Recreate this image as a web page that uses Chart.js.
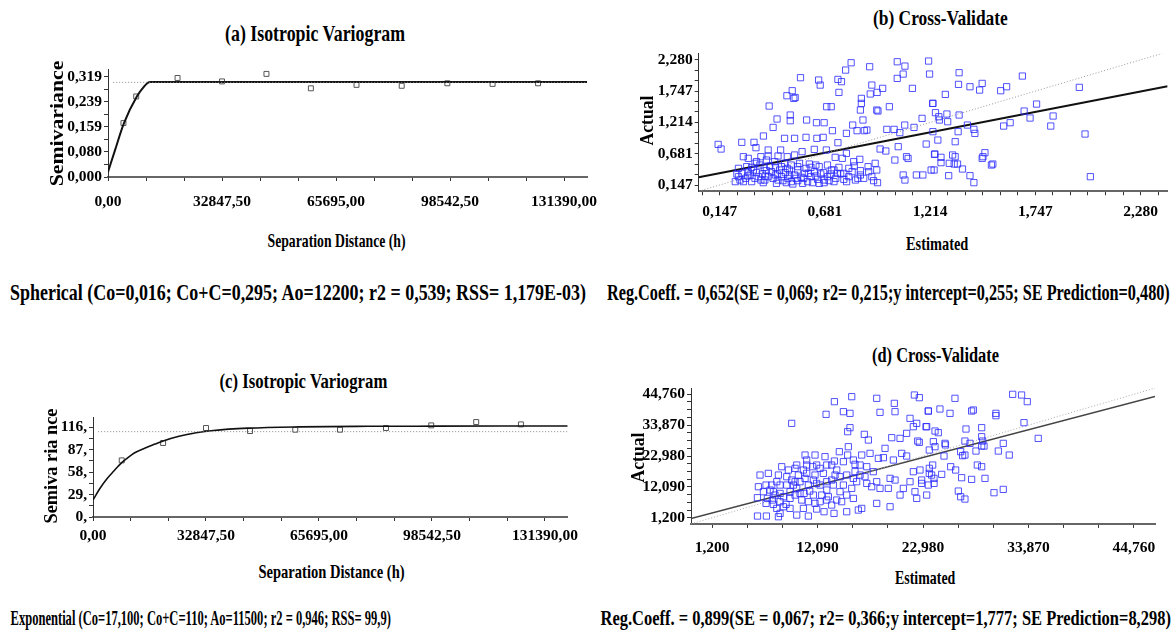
<!DOCTYPE html>
<html>
<head>
<meta charset="utf-8">
<script src="https://cdn.jsdelivr.net/npm/chart.js@4.4.0/dist/chart.umd.min.js"></script>
<style>
  body { margin: 0; width: 1173px; height: 633px; background: #fff; position: relative; overflow: hidden;
         font-family: "Liberation Serif", "Times New Roman", serif; }
  canvas { position: absolute; }
  .t { position: absolute; white-space: nowrap; font-weight: bold; color: #000; line-height: 1; transform-origin: center center; }
</style>
</head>
<body>
<script>
// --------------------
// Data
// --------------------

// (a) spherical variogram: experimental points, fitted model, sample variance
const lagA = [4450, 8130, 20040, 32850, 45650, 58450, 71600, 84620, 97760, 110800, 123900];
const semA = [0.172, 0.257, 0.316, 0.305, 0.329, 0.283, 0.294, 0.291, 0.299, 0.297, 0.299];
const modelHA = [0, 2000, 4600, 8350, 10500, 11300, 12200, 138000];
const modelGA = [0.016, 0.085, 0.172, 0.258, 0.290, 0.299, 0.303, 0.303];
const sillA = 0.302;

// (c) exponential variogram
const lagC = [8350, 20380, 32850, 45650, 58800, 71800, 85170, 98330, 111400, 124400];
const semC = [73.0, 95.4, 114.7, 110.8, 112.5, 112.5, 114.7, 118.1, 122.4, 119.4];
const modelHC = [0, 2000, 4000, 6000, 8350, 10000, 12000, 15000, 18000, 20400, 25000, 30000, 35000, 45000, 60000, 80000, 100000, 138000];
const modelGC = [22, 36.8, 49, 59, 70, 76, 82.5, 88.7, 94, 98, 104, 108.5, 111.5, 114.5, 116.2, 116.9, 117.1, 117.3];
const sillC = 110;

// (b) cross-validation, [estimated, actual]
const cvB = [
  [0.814,2.233],[0.786,2.108],[0.908,2.165],[1.048,2.25],[1.087,2.176],[1.207,2.262],[1.212,2.04],[1.078,2.04],
  [1.048,1.966],[0.557,1.978],[0.649,1.938],[0.657,1.852],[0.747,1.949],[0.765,1.91],[0.919,1.852],[0.974,1.796],
  [0.946,1.727],[0.911,1.70],[0.752,1.727],[1.125,1.796],[0.515,1.756],[0.488,1.67],[0.523,1.625],[0.53,1.64],
  [0.866,1.625],[0.866,1.54],[0.861,1.426],[0.874,1.256],[0.944,1.426],[0.95,1.41],[1.008,1.483],[1.229,1.54],
  [0.398,1.494],[0.69,1.483],[0.713,1.483],[0.438,1.273],[0.418,1.13],[0.505,1.341],[0.505,1.244],[0.588,1.256],
  [0.638,1.21],[0.677,1.21],[0.369,0.983],[0.259,0.875],[0.321,0.875],[0.331,0.784],[0.139,0.84],[0.154,0.761],
  [0.476,0.943],[0.527,0.943],[0.585,0.96],[0.64,0.943],[0.672,0.96],[0.719,1.074],[0.747,0.869],[0.79,1.028],
  [0.822,1.17],[0.844,1.074],[0.881,1.074],[0.894,1.085],[0.995,1.096],[1.032,1.096],[1.061,1.04],[1.086,1.17],
  [1.133,1.13],[1.174,1.284],[1.195,0.846],[1.229,1.057],[1.239,0.676],[1.235,0.403],[1.053,0.801],[0.961,0.761],
  [0.99,0.727],[1.036,0.573],[1.095,0.63],[1.103,0.60],[1.145,0.318],[1.178,0.318],[1.078,0.318],[1.087,0.232],
  [0.936,0.517],[0.944,0.403],[0.948,0.187],[0.919,0.289],[0.858,0.585],[0.9,0.46],[0.83,0.471],[0.79,0.687],
  [0.769,0.602],[0.733,0.619],[0.688,0.744],[0.627,0.755],[0.565,0.716],[0.527,0.659],[0.49,0.63],[0.456,0.744],
  [0.393,0.744],[0.443,0.642],[0.393,0.642],[0.267,0.63],[0.292,0.602],[0.334,0.545],[0.356,0.63],[0.384,0.573],
  [0.226,0.204],[0.242,0.289],[0.259,0.346],[0.279,0.261],[0.301,0.318],[0.318,0.403],[0.326,0.261],[0.343,0.289],
  [0.363,0.335],[0.376,0.232],[0.393,0.289],[0.41,0.374],[0.43,0.318],[0.443,0.232],[0.46,0.289],[0.48,0.357],
  [0.493,0.261],[0.51,0.204],[0.527,0.318],[0.543,0.403],[0.56,0.278],[0.577,0.346],[0.593,0.204],[0.61,0.289],
  [0.627,0.374],[0.644,0.244],[0.66,0.335],[0.677,0.232],[0.694,0.289],[0.714,0.403],[0.736,0.261],[0.761,0.335],
  [0.777,0.244],[0.802,0.289],[0.819,0.374],[0.836,0.232],[0.861,0.318],[0.878,0.261],[0.242,0.431],[0.284,0.46],
  [0.351,0.488],[0.401,0.471],[0.46,0.46],[0.51,0.488],[0.552,0.517],[0.602,0.505],[0.652,0.46],[0.694,0.488],
  [0.752,0.448],[0.802,0.431],[0.861,0.391],[0.903,0.374],[0.652,0.175],[0.518,0.164],[0.568,0.175],[0.727,0.204],
  [0.777,0.346],[0.25,0.232],[0.309,0.204],[0.368,0.187],[0.435,0.175],[0.485,0.187],[0.543,0.221],[0.618,0.187],
  [0.677,0.187],[0.292,0.374],[0.384,0.391],[0.451,0.403],[0.501,0.403],[0.585,0.431],[0.635,0.488],[0.711,0.335],
  [0.326,0.517],[0.426,0.545],[0.476,0.517],[0.234,0.335],[0.267,0.204],[0.289,0.301],[0.334,0.357],[0.356,0.232],
  [0.379,0.301],[0.418,0.261],[0.439,0.335],[0.468,0.221],[0.501,0.318],[0.535,0.261],[0.573,0.261],[0.597,0.346],
  [0.635,0.301],[0.674,0.357],[0.702,0.221],[0.744,0.346],[0.791,0.204],[0.848,0.261],[0.309,0.448],[0.373,0.448],
  [0.43,0.448],[0.49,0.431],[0.543,0.46],[0.61,0.448],[0.727,0.403],[0.827,0.545],[0.928,0.221],
  [1.362,2.063],[1.359,1.864],[1.417,1.824],[1.466,1.767],[1.479,1.881],[1.573,1.756],[1.603,1.824],[1.683,2.006],
  [1.972,1.813],[1.292,1.693],[1.228,1.54],[1.242,1.381],[1.259,1.312],[1.262,1.256],[1.3,1.358],[1.304,1.227],
  [1.362,1.341],[1.357,1.057],[1.404,1.17],[1.437,1.096],[1.442,1.028],[1.588,1.153],[1.621,1.21],[1.692,1.409],
  [1.722,1.29],[1.755,1.528],[1.839,1.324],[1.827,1.153],[2.001,1.017],[1.254,0.914],[1.342,0.886],[1.237,0.67],
  [1.27,0.619],[1.27,0.528],[1.312,0.517],[1.329,0.659],[1.342,0.63],[1.337,0.505],[1.354,0.505],[1.379,0.42],
  [1.22,0.403],[1.309,0.306],[1.417,0.306],[1.437,0.187],[1.483,0.63],[1.493,0.698],[1.479,0.602],[1.526,0.488],
  [1.533,0.505],[2.028,0.289]
];
const regB = [[0.0404, 0.281], [2.42, 1.833]];   // Reg.Coeff 0,652, intercept 0,255
const oneB = [[0.0404, 0.0404], [2.42, 2.42]];

// (d) cross-validation, [estimated, actual]
const cvD = [
  [15.62,43.91],[13.83,42.15],[18.2,43.33],[20.02,41.56],[22.09,44.5],[22.6,43.56],[23.53,38.85],[18.54,38.38],
  [20.09,38.62],[14.76,38.62],[15.44,38.03],[12.97,37.68],[9.42,34.5],[21.64,36.27],[21.98,33.32],[23.36,33.32],
  [22.33,34.5],[15.2,31.56],[15.44,32.97],[16.92,30.62],[17.34,28.62],[19.75,29.44],[20.61,29.2],[21.29,30.97],
  [22.43,28.26],[22.6,27.79],[19.06,25.68],[18.37,22.15],[18.89,22.39],[20.78,23.91],[21.29,22.97],[19.92,21.56],
  [17.51,23.91],[16.65,23.32],[14.34,24.5],[15.27,26.26],[15.2,23.32],[13.83,21.2],[13.04,19.79],[11.83,23.32],
  [12.0,19.79],[10.97,19.79],[9.94,19.79],[9.77,18.62],[14.07,18.03],[12.86,22.74],[11.59,19.2],[15.96,20.03],
  [16.48,19.79],[17.85,17.44],[18.2,13.91],[18.54,11.56],[19.4,11.56],[17.17,13.32],[15.96,17.44],[15.79,15.09],
  [14.76,12.73],[13.55,14.5],[12.69,16.85],[11.83,16.26],[10.8,15.09],[9.77,13.91],[8.91,15.67],[8.05,16.26],
  [7.88,13.91],[7.01,16.85],[5.98,12.14],[5.88,8.26],[6.91,8.02],[6.15,16.26],[6.77,12.73],[7.19,10.97],
  [7.7,9.2],[8.22,6.85],[8.56,8.61],[9.25,10.38],[9.94,11.56],[10.46,7.44],[11.14,12.73],[11.66,9.2],
  [12.35,6.85],[12.76,3.32],[13.79,2.73],[15.1,3.32],[16.3,3.91],[16.65,4.49],[13.55,5.67],[14.58,6.85],
  [15.79,8.02],[14.41,10.38],[13.04,10.97],[9.25,4.49],[9.94,2.14],[11.14,1.79],[8.22,2.73],[8.05,1.55],
  [6.81,1.79],[5.89,1.79],[8.84,5.91],[7.53,5.91],[9.6,12.73],[10.28,13.91],[7.43,7.44],[8.56,5.08],
  [10.7,9.79],[11.99,13.32],[12.52,9.2],[13.9,16.26],[15.1,16.26],[16.48,16.26],[17.68,12.14],[19.58,15.09],
  [20.61,9.2],[21.64,13.91],[22.15,10.38],[20.95,11.56],[20.09,14.5],[18.2,6.26],[19.58,5.08],[22.33,8.02],
  [23.36,9.2],[21.98,17.44],[22.67,18.03],[23.63,16.85],[23.53,12.73],
  [7.36,12.73],[8.22,12.73],[8.91,12.73],[9.42,14.5],[10.11,16.26],[10.97,16.85],[11.66,14.5],[12.35,12.73],
  [13.04,13.91],[13.72,12.73],[13.21,8.61],[14.07,7.44],[15.1,9.2],[15.62,11.56],[16.13,13.91],[16.99,15.67],
  [6.5,10.38],[7.53,10.38],[8.22,9.79],[9.25,8.02],[9.77,9.2],[11.14,6.85],[11.83,6.26],[10.28,9.79],
  [11.28,10.61],[6.77,6.26],[7.88,4.49],[10.63,4.49],[12.0,4.26],[13.04,7.44],[14.41,15.67],[12.35,18.62],
  [10.63,18.03],[9.08,18.03],[8.39,19.2],[10.8,23.32],[10.97,21.56],[13.55,19.79],[14.76,20.97],[17.17,19.2],
  [15.79,21.56],
  [26.28,43.33],[32.24,44.74],[33.16,44.5],[33.75,42.15],[30.51,38.03],[30.51,37.21],[28.0,38.85],[28.18,39.21],
  [25.77,38.03],[24.73,39.56],[23.53,38.85],[23.29,33.32],[24.22,31.79],[24.56,31.21],[27.42,32.5],[29.04,32.97],
  [33.41,34.74],[34.88,29.2],[27.31,28.26],[27.83,27.44],[29.04,29.79],[29.14,28.26],[29.04,26.5],[29.28,26.5],
  [31.27,27.44],[30.76,24.73],[31.89,23.32],[28.45,24.73],[25.25,27.44],[25.3,26.9],[24.22,26.26],[24.05,28.03],
  [23.63,25.09],[25.15,22.97],[26.87,24.5],[27.07,23.09],[27.31,23.32],[23.98,19.79],[23.63,18.62],[25.84,19.2],
  [26.35,18.03],[28.59,19.79],[29.04,19.2],[23.87,16.26],[24.12,15.09],[24.12,13.32],[22.84,14.5],[22.84,13.32],
  [24.91,16.5],[26.97,15.32],[28.0,14.73],[29.38,15.09],[26.63,10.61],[26.87,8.61],[27.31,7.79],[30.31,10.03],
  [31.27,11.2]
];
const regD = [[-0.978, 0.898], [46.938, 43.97]];  // Reg.Coeff 0,899, intercept 1,777
const oneD = [[-0.978, -0.978], [46.938, 46.938]];

// tick labels
const xTicksA = [0, 32847.5, 65695, 98542.5, 131390];
const yTicksA = [0, 0.080, 0.159, 0.239, 0.319];
const xTicksB = [0.147, 0.681, 1.214, 1.747, 2.280];
const yTicksB = [0.147, 0.681, 1.214, 1.747, 2.280];
const xTicksC = [0, 32847.5, 65695, 98542.5, 131390];
const yTicksC = [0, 29, 58, 87, 116];
const xTicksD = [1.2, 12.09, 22.98, 33.87, 44.76];
const yTicksD = [1.2, 12.09, 22.98, 33.87, 44.76];

// --------------------
// Helpers
// --------------------
const FONT = 'Liberation Serif';

function txt(s, cx, cy, w, size, rot) {
  const d = document.createElement('div');
  d.className = 't';
  d.textContent = s;
  d.style.fontSize = size + 'px';
  document.body.appendChild(d);
  const ow = d.offsetWidth, oh = d.offsetHeight;
  d.style.left = (cx - ow / 2) + 'px';
  d.style.top = (cy - oh / 2) + 'px';
  d.style.transform = (rot ? 'rotate(' + rot + 'deg) ' : '') + 'scaleX(' + (w / ow) + ')';
}

function withMinors(majors, n, min, max) {
  const step = (majors[1] - majors[0]) / n;
  const out = [];
  for (let v = majors[0]; v >= min - 1e-9; v -= step) out.unshift(v);
  for (let v = majors[0] + step; v <= max + 1e-9; v += step) out.push(v);
  return out;
}

function axis(majors, n, min, max, fmt, fitFn) {
  const step = (majors[1] - majors[0]) / n;
  const vals = withMinors(majors, n, min, max);
  return {
    type: 'linear', min, max,
    afterBuildTicks: s => { s.ticks = vals.map(v => ({ value: v })); },
    afterFit: s => { fitFn(s); s.paddingLeft = 0; s.paddingRight = 0; s.paddingTop = 0; s.paddingBottom = 0; },
    ticks: {
      autoSkip: false, maxRotation: 0, color: '#000', padding: 6,
      font: { family: FONT, size: 15.5, weight: 'bold' },
      callback: v => {
        const m = majors.find(mj => Math.abs(mj - v) < step / 10);
        return m === undefined ? '' : fmt(m);
      }
    },
    grid: { drawOnChartArea: false, drawTicks: true, tickLength: 4, tickColor: '#333' },
    border: { display: true, color: '#333', width: 1 }
  };
}

const sq = (color, r) => ({ type: 'scatter', pointStyle: 'rect', pointRadius: r, borderColor: color,
  backgroundColor: 'rgba(0,0,0,0)', borderWidth: 1, showLine: false });
const ln = (color, w, dash) => ({ type: 'scatter', showLine: true, pointRadius: 0, borderColor: color,
  borderWidth: w, borderDash: dash || [], fill: false, cubicInterpolationMode: 'monotone' });
const pts = arr => arr.map(p => ({ x: p[0], y: p[1] }));
const zip = (xs, ys) => xs.map((x, i) => ({ x, y: ys[i] }));

function panel(box, area, xs, ys, datasets) {
  const cv = document.createElement('canvas');
  const w = box.r - box.l, h = box.b - box.t;
  cv.width = w; cv.height = h;
  cv.style.left = box.l + 'px'; cv.style.top = box.t + 'px';
  cv.style.width = w + 'px'; cv.style.height = h + 'px';
  document.body.appendChild(cv);
  new Chart(cv, {
    type: 'scatter',
    data: { datasets },
    options: {
      responsive: false, animation: false, events: [],
      layout: { padding: { top: area.t - box.t, right: box.r - area.r, left: 0, bottom: 0 } },
      plugins: { legend: { display: false }, tooltip: { enabled: false } },
      scales: { x: xs, y: ys }
    }
  });
}

const f2 = v => v.toFixed(2).replace('.', ',');
const f3 = v => v.toFixed(3).replace('.', ',');
const fi = v => Math.round(v) + ',';

// --------------------
// (a) Isotropic Variogram - spherical
// --------------------
{
  const box = { l: 0, t: 55, r: 600, b: 225 }, area = { l: 108, t: 69.5, r: 587, b: 177 };
  const xs = axis(xTicksA, 3, 0, 138000, f2, s => { s.height = box.b - area.b; });
  xs.ticks.padding = 12;
  xs.border = { display: true, color: '#666', width: 2 };
  const ys = axis(yTicksA, 2, 0, 0.343, f3, s => { s.width = area.l - box.l; });
  ys.ticks.padding = 2;
  panel(box, area, xs, ys, [
    Object.assign(ln('#888', 1, [1, 2]), { data: [{ x: 1500, y: sillA }, { x: 138000, y: sillA }] }),
    Object.assign(ln('#111', 2), { data: zip(modelHA, modelGA) }),
    Object.assign(sq('#555', 3.5), { data: zip(lagA, semA) })
  ]);
}

// --------------------
// (b) Cross-Validate
// --------------------
{
  const box = { l: 600, t: 40, r: 1173, b: 228 }, area = { l: 698.7, t: 53.75, r: 1173, b: 191.25 };
  const xs = axis(xTicksB, 6, 0.0404, 2.42, f3, s => { s.height = box.b - area.b; });
  xs.ticks.padding = 7;
  xs.border = { display: true, color: '#666', width: 2 };
  const ys = axis(yTicksB, 3, 0.0404, 2.3866, f3, s => { s.width = area.l - box.l; });
  ys.ticks.padding = 2;
  panel(box, area, xs, ys, [
    Object.assign(sq('rgba(40,40,255,0.8)', 4.4), { data: pts(cvB) }),
    Object.assign(ln('#999', 1, [1, 2]), { data: pts(oneB) }),
    Object.assign(ln('#111', 2), { data: pts(regB) })
  ]);
}

// --------------------
// (c) Isotropic Variogram - exponential
// --------------------
{
  const box = { l: 0, t: 405, r: 600, b: 555 }, area = { l: 93, t: 417.7, r: 567.7, b: 517 };
  const xs = axis(xTicksC, 3, 0, 138000, f2, s => { s.height = box.b - area.b; });
  xs.ticks.padding = 6;
  xs.border = { display: true, color: '#666', width: 2 };
  const ys = axis(yTicksC, 2, 0, 128, fi, s => { s.width = area.l - box.l; });
  ys.ticks.padding = 2;
  panel(box, area, xs, ys, [
    Object.assign(ln('#888', 1, [1, 2]), { data: [{ x: 1500, y: sillC }, { x: 138000, y: sillC }] }),
    Object.assign(ln('#111', 1.6), { data: zip(modelHC, modelGC) }),
    Object.assign(sq('#555', 3.5), { data: zip(lagC, semC) })
  ]);
}

// --------------------
// (d) Cross-Validate
// --------------------
{
  const box = { l: 600, t: 375, r: 1173, b: 560 }, area = { l: 691, t: 388.1, r: 1155, b: 523.9 };
  const xs = axis(xTicksD, 3, -0.978, 46.938, f3, s => { s.height = box.b - area.b; });
  xs.ticks.padding = 11;
  xs.border = { display: true, color: '#666', width: 2 };
  const ys = axis(yTicksD, 4, -0.978, 46.938, f3, s => { s.width = area.l - box.l; });
  ys.ticks.padding = 2;
  panel(box, area, xs, ys, [
    Object.assign(sq('rgba(40,40,255,0.8)', 4.4), { data: pts(cvD) }),
    Object.assign(ln('#aaa', 1, [1, 2]), { data: pts(oneD) }),
    Object.assign(ln('#444', 1.6), { data: pts(regD) })
  ]);
}

// --------------------
// Titles, axis titles, captions
// --------------------
txt('(a) Isotropic Variogram', 315, 33, 180, 23);
txt('Semivariance', 57, 123, 126, 19, -90);
txt('Separation Distance (h)', 336, 240, 138, 19);
txt('(b) Cross-Validate', 940, 18, 135, 21);
txt('Actual', 647, 120, 50, 19, -90);
txt('Estimated', 937, 243, 62, 19);
txt('Spherical (Co=0,016; Co+C=0,295; Ao=12200; r2 = 0,539; RSS= 1,179E-03)', 298, 292, 576, 23);
txt('Reg.Coeff. = 0,652(SE = 0,069; r2= 0,215;y intercept=0,255; SE Prediction=0,480)', 888, 292, 563, 23);
txt('(c) Isotropic Variogram', 303, 381, 168, 22);
txt('Semiva ria nce', 51, 466, 115, 18, -90);
txt('Separation Distance (h)', 331, 571, 146, 19);
txt('(d) Cross-Validate', 935, 355, 127, 20);
txt('Actual', 638, 457, 50, 19, -90);
txt('Estimated', 925, 577, 60, 19);
txt('Exponential (Co=17,100; Co+C=110; Ao=11500; r2 = 0,946; RSS= 99,9)', 200, 618, 380, 22);
txt('Reg.Coeff. = 0,899(SE = 0,067; r2= 0,366;y intercept=1,777; SE Prediction=8,298)', 885, 618, 570, 21);
</script>
</body>
</html>
